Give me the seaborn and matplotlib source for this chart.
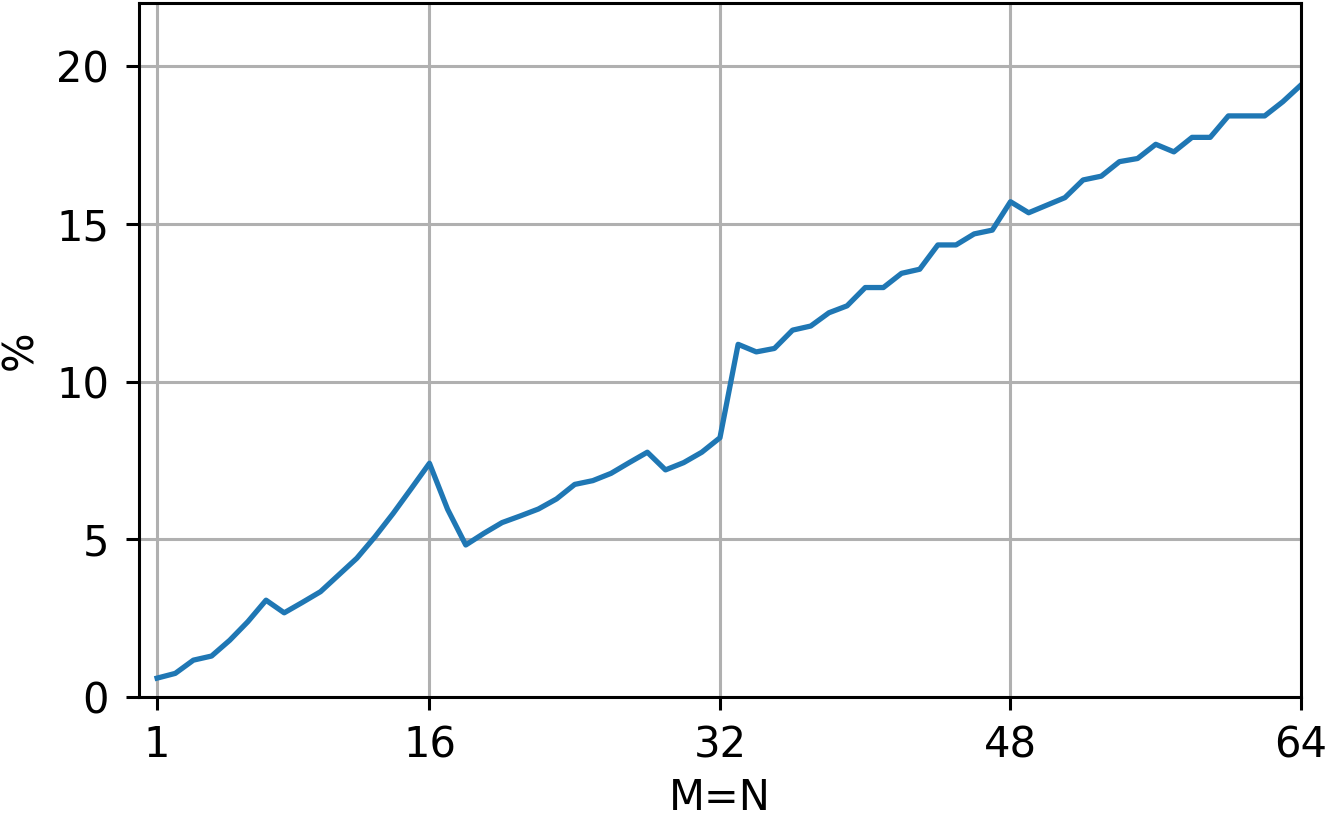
import numpy as np
import pandas as pd
import seaborn as sb
import matplotlib
matplotlib.use("Agg")
import matplotlib.pyplot as plt


# values
mn = list(range(1, 65))
percent = [0.60, 0.75, 1.17, 1.30, 1.80, 2.39, 3.07, 2.67, 3.00, 3.34,
           3.87, 4.40, 5.08, 5.82, 6.61, 7.41, 5.95, 4.82, 5.19, 5.53,
           5.74, 5.96, 6.28, 6.74, 6.86, 7.09, 7.43, 7.76, 7.20, 7.43,
           7.76, 8.22, 11.18, 10.94, 11.05, 11.63, 11.76, 12.18, 12.40, 12.98,
           12.98, 13.43, 13.56, 14.33, 14.33, 14.68, 14.80, 15.70, 15.35, 15.59,
           15.83, 16.39, 16.51, 16.97, 17.07, 17.52, 17.28, 17.74, 17.74, 18.42,
           18.42, 18.42, 18.87, 19.40]
x_ticks = [1, 16, 32, 48, 64]
y_ticks = [0, 5, 10, 15, 20]

oData = pd.DataFrame({"M=N": mn, "%": percent})

plt.rcParams.update({
    "xtick.labelsize": 15,
    "ytick.labelsize": 15,
    "axes.labelsize": 15,
    "axes.linewidth": 1.1,
    "xtick.major.size": 4.7,
    "ytick.major.size": 4.7,
    "xtick.major.width": 1.1,
    "ytick.major.width": 1.1,
    "xtick.major.pad": 5.0,
    "ytick.major.pad": 6.0,
    "grid.linewidth": 1.1,
    "grid.color": "#b0b0b0",
})

# set figure size
fig = plt.figure(figsize=(6.635, 4.11), dpi=200, facecolor='w')
ax = fig.add_axes([0.1047, 0.152, 0.8757, 0.8444])

sb.lineplot(x="M=N", y="%", data=oData, ax=ax, color="#1f77b4", linewidth=1.9)
ax.set_xlim(0, 64)
ax.set_ylim(0, 22)
ax.set_xticks(x_ticks)
ax.set_yticks(y_ticks)
ax.set_xlabel("M=N", labelpad=4)
ax.set_ylabel("%", labelpad=5.5)
ax.grid(True)
ax.set_axisbelow(True)

fig.savefig("out.png", dpi=200)
